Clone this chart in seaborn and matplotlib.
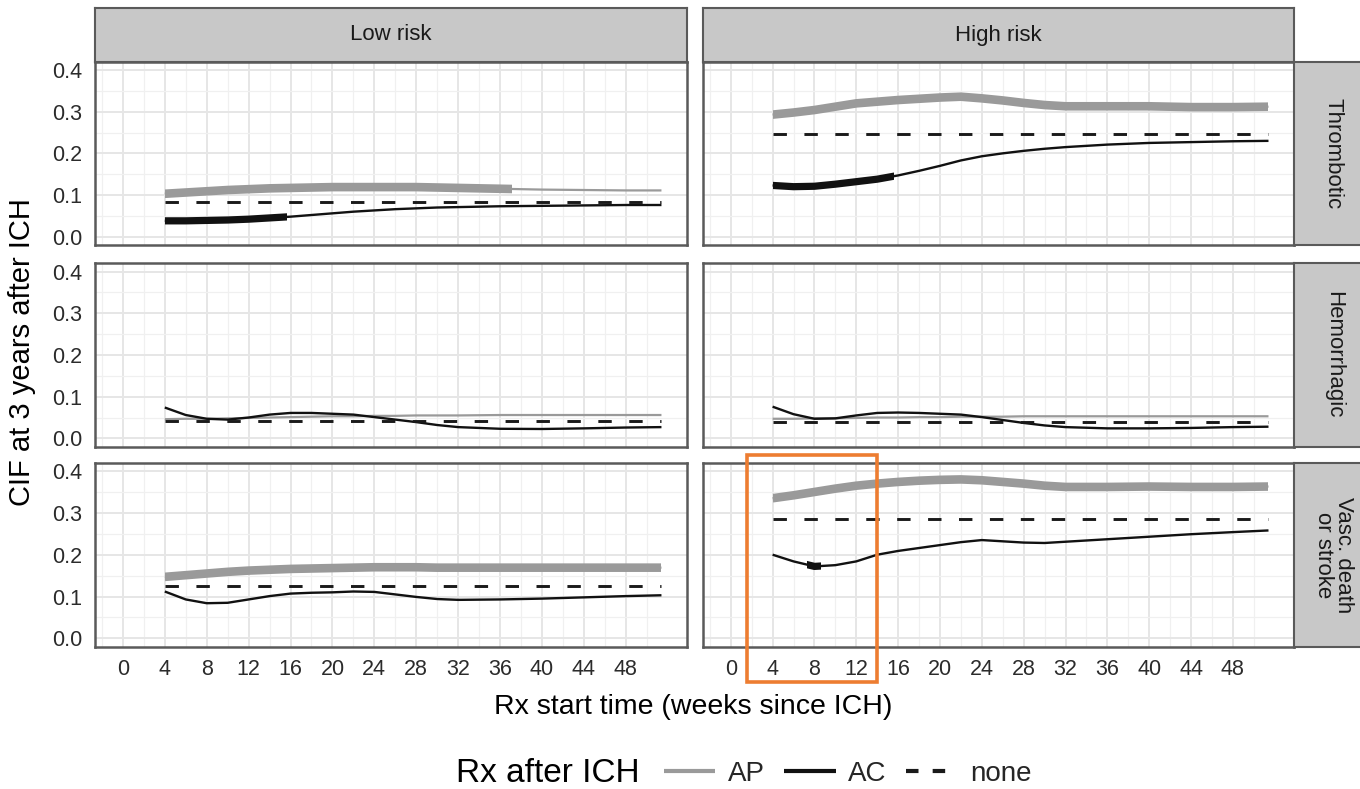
import matplotlib
matplotlib.use("Agg")
import numpy as np
import pandas as pd
import matplotlib.pyplot as plt
import matplotlib.transforms as mtransforms
from matplotlib.patches import Rectangle
from matplotlib.lines import Line2D
import seaborn as sns

# ---------------------------------------------------------------- data
risk_groups = ["Low risk", "High risk"]
outcomes = ["Thrombotic", "Hemorrhagic", "Vasc. death\nor stroke"]
treatments = ["AP", "AC", "none"]

x_ticks = list(range(0, 49, 4))
y_ticks = [0.0, 0.1, 0.2, 0.3, 0.4]

weeks = [4, 6, 8, 10, 12, 14, 16, 18, 20, 22, 24, 26, 28, 30, 32, 36, 40, 44, 48, 51.4]

# Thrombotic
low_thromb_ap = [0.103, 0.106, 0.109, 0.112, 0.114, 0.116, 0.117, 0.118, 0.119, 0.119,
                 0.119, 0.119, 0.119, 0.118, 0.117, 0.115, 0.113, 0.112, 0.111, 0.111]
low_thromb_ac = [0.038, 0.038, 0.039, 0.040, 0.042, 0.045, 0.048, 0.052, 0.056, 0.060,
                 0.063, 0.066, 0.068, 0.070, 0.071, 0.073, 0.074, 0.075, 0.076, 0.076]
high_thromb_ap = [0.293, 0.298, 0.304, 0.312, 0.320, 0.324, 0.328, 0.331, 0.334, 0.336,
                  0.332, 0.327, 0.321, 0.316, 0.313, 0.313, 0.313, 0.311, 0.311, 0.312]
high_thromb_ac = [0.123, 0.120, 0.121, 0.126, 0.132, 0.138, 0.147, 0.158, 0.170, 0.183,
                  0.193, 0.200, 0.206, 0.211, 0.215, 0.221, 0.225, 0.227, 0.229, 0.230]

# Hemorrhagic
low_hem_ap = [0.046, 0.047, 0.047, 0.048, 0.049, 0.050, 0.051, 0.052, 0.053, 0.053,
              0.054, 0.054, 0.055, 0.055, 0.055, 0.056, 0.056, 0.056, 0.056, 0.056]
low_hem_ac = [0.074, 0.056, 0.047, 0.045, 0.050, 0.057, 0.061, 0.061, 0.059, 0.057,
              0.051, 0.045, 0.039, 0.032, 0.027, 0.023, 0.0225, 0.024, 0.026, 0.027]
high_hem_ap = [0.047, 0.047, 0.048, 0.048, 0.049, 0.050, 0.050, 0.051, 0.051, 0.052,
               0.052, 0.052, 0.053, 0.053, 0.053, 0.053, 0.053, 0.053, 0.053, 0.053]
high_hem_ac = [0.076, 0.058, 0.047, 0.048, 0.055, 0.061, 0.062, 0.061, 0.059, 0.057,
               0.051, 0.044, 0.037, 0.031, 0.027, 0.024, 0.024, 0.025, 0.027, 0.028]

# Vascular death or stroke
low_vasc_ap = [0.147, 0.151, 0.155, 0.159, 0.162, 0.164, 0.166, 0.167, 0.168, 0.169,
               0.170, 0.170, 0.170, 0.169, 0.169, 0.169, 0.169, 0.169, 0.169, 0.169]
low_vasc_ac = [0.112, 0.093, 0.084, 0.085, 0.093, 0.101, 0.107, 0.109, 0.110, 0.112,
               0.111, 0.105, 0.099, 0.094, 0.092, 0.093, 0.095, 0.098, 0.101, 0.103]
high_vasc_ap = [0.335, 0.342, 0.350, 0.358, 0.365, 0.370, 0.374, 0.377, 0.379, 0.380,
                0.378, 0.374, 0.370, 0.365, 0.362, 0.362, 0.363, 0.362, 0.362, 0.363]
high_vasc_ac = [0.200, 0.184, 0.172, 0.175, 0.184, 0.200, 0.209, 0.216, 0.223, 0.230,
                0.235, 0.232, 0.229, 0.228, 0.231, 0.237, 0.243, 0.249, 0.254, 0.258]

# no treatment: constant reference level per panel (Thrombotic, Hemorrhagic, Vasc.)
low_none = [0.084, 0.041, 0.126]
high_none = [0.246, 0.039, 0.285]

# start-week ranges where the estimate is drawn heavy (significant difference)
heavy_spans = {
    ("Low risk", "Thrombotic", "AP"): (4, 37.1),
    ("Low risk", "Thrombotic", "AC"): (4, 15.7),
    ("High risk", "Thrombotic", "AP"): (4, 51.4),
    ("High risk", "Thrombotic", "AC"): (4, 15.6),
    ("Low risk", "Vasc. death\nor stroke", "AP"): (4, 51.4),
    ("High risk", "Vasc. death\nor stroke", "AP"): (4, 51.4),
    ("High risk", "Vasc. death\nor stroke", "AC"): (7.3, 8.6),
}

series = {
    ("Low risk", "Thrombotic"): (low_thromb_ap, low_thromb_ac, low_none[0]),
    ("Low risk", "Hemorrhagic"): (low_hem_ap, low_hem_ac, low_none[1]),
    ("Low risk", "Vasc. death\nor stroke"): (low_vasc_ap, low_vasc_ac, low_none[2]),
    ("High risk", "Thrombotic"): (high_thromb_ap, high_thromb_ac, high_none[0]),
    ("High risk", "Hemorrhagic"): (high_hem_ap, high_hem_ac, high_none[1]),
    ("High risk", "Vasc. death\nor stroke"): (high_vasc_ap, high_vasc_ac, high_none[2]),
}

rows = []
for (risk, outcome), (ap, ac, none_level) in series.items():
    for w, v in zip(weeks, ap):
        rows.append((risk, outcome, "AP", w, v))
    for w, v in zip(weeks, ac):
        rows.append((risk, outcome, "AC", w, v))
    for w in (weeks[0], weeks[-1]):
        rows.append((risk, outcome, "none", w, none_level))
df = pd.DataFrame(rows, columns=["risk", "outcome", "rx", "week", "cif"])

# ---------------------------------------------------------------- style
sns.set_theme(style="white")
plt.rcParams["font.family"] = ["Liberation Sans", "DejaVu Sans"]
plt.rcParams["lines.solid_capstyle"] = "butt"
plt.rcParams["lines.dash_capstyle"] = "butt"

colors = {"AP": "#9a9a9a", "AC": "#111111", "none": "#1a1a1a"}
thin_lw = {"AP": 1.6, "AC": 1.7, "none": 2.1}
heavy_lw = {"AP": 6.2, "AC": 5.2}
styles = {"AP": "-", "AC": "-", "none": (0, (4.6, 6.0))}
legend_styles = {"AP": "-", "AC": "-", "none": (0, (3.0, 3.4))}

W, H = 1360, 789
fig = plt.figure(figsize=(W / 100, H / 100), dpi=100)


def fx(px):
    return px / W


def fy(py):
    return 1 - py / H


col_x = [(94.6, 686.6), (702.5, 1293.6)]
row_y = [(61.7, 245.0), (263.3, 446.7), (462.7, 646.7)]

border_col = "#5a5a5a"
strip_fill = "#c8c8c8"
tick_col = "#2b2b2b"

axes = {}
for ci, risk in enumerate(risk_groups):
    for ri, outcome in enumerate(outcomes):
        x0, x1 = col_x[ci]
        y0, y1 = row_y[ri]
        ax = fig.add_axes([fx(x0), fy(y1), fx(x1) - fx(x0), fy(y0) - fy(y1)])
        axes[(risk, outcome)] = ax
        ax.set_xlim(-2.7, 53.8)
        ax.set_ylim(-0.02, 0.42)
        ax.set_xticks(x_ticks)
        ax.set_xticks([t + 2 for t in range(-4, 52, 4)], minor=True)
        ax.set_yticks(y_ticks)
        ax.set_yticks([0.05, 0.15, 0.25, 0.35], minor=True)
        ax.set_axisbelow(True)
        ax.grid(which="major", color="#e6e6e6", lw=1.4)
        ax.grid(which="minor", color="#f0f0f0", lw=0.9)
        for s in ax.spines.values():
            s.set_color(border_col)
            s.set_linewidth(1.8)
        ax.tick_params(which="minor", length=0)
        ax.tick_params(which="major", length=5.0, width=1.6, color=tick_col,
                       labelsize=15.5, labelcolor=tick_col, pad=4)
        ax.yaxis.set_major_formatter(matplotlib.ticker.FormatStrFormatter("%.1f"))
        if ci != 0:
            ax.tick_params(axis="y", length=0, labelleft=False)
        if ri != len(outcomes) - 1:
            ax.tick_params(axis="x", length=0, labelbottom=False)

        sub = df[(df["risk"] == risk) & (df["outcome"] == outcome)]
        clip_tr = mtransforms.blended_transform_factory(ax.transData, ax.transAxes)
        for rx in treatments:
            d = sub[sub["rx"] == rx]
            sns.lineplot(data=d, x="week", y="cif", ax=ax, color=colors[rx],
                         lw=thin_lw[rx], linestyle=styles[rx], estimator=None,
                         sort=True, legend=False)
            span = heavy_spans.get((risk, outcome, rx))
            if span is not None:
                sns.lineplot(data=d, x="week", y="cif", ax=ax, color=colors[rx],
                             lw=heavy_lw[rx], estimator=None, sort=True, legend=False)
                heavy = ax.lines[-1]
                box = Rectangle((span[0], -1), span[1] - span[0], 3, transform=clip_tr)
                heavy.set_clip_path(box)
        ax.set_xlabel("")
        ax.set_ylabel("")

# facet strips
for ci, risk in enumerate(risk_groups):
    x0, x1 = col_x[ci]
    sax = fig.add_axes([fx(x0), fy(61.7), fx(x1) - fx(x0), fy(8.3) - fy(61.7)])
    sax.set_facecolor(strip_fill)
    sax.set_xticks([])
    sax.set_yticks([])
    for s in sax.spines.values():
        s.set_color(border_col)
        s.set_linewidth(1.5)
    sax.text(0.5, 0.5, risk, ha="center", va="center", fontsize=16, color="#1a1a1a",
             transform=sax.transAxes)

for ri, outcome in enumerate(outcomes):
    y0, y1 = row_y[ri]
    sax = fig.add_axes([fx(1293.6), fy(y1), fx(1373) - fx(1293.6), fy(y0) - fy(y1)])
    sax.set_facecolor(strip_fill)
    sax.set_xticks([])
    sax.set_yticks([])
    for s in sax.spines.values():
        s.set_color(border_col)
        s.set_linewidth(1.5)
    sax.text(0.5, 0.5, outcome, ha="center", va="center", fontsize=16, color="#1a1a1a",
             rotation=-90, linespacing=0.95, transform=sax.transAxes)

# axis titles
fig.text(fx(22), fy(352), "CIF at 3 years after ICH", rotation=90, ha="center",
         va="center", fontsize=21, color="#000000")
fig.text(fx(693), fy(707), "Rx start time (weeks since ICH)", ha="center",
         va="center", fontsize=20.5, color="#000000")

# highlighted early start window
ax_hv = axes[("High risk", "Vasc. death\nor stroke")]
hl_tr = mtransforms.blended_transform_factory(ax_hv.transData, fig.transFigure)
fig.patches.append(Rectangle((1.55, fy(682)), 14.0 - 1.55, fy(455) - fy(682),
                             transform=hl_tr, fill=False, edgecolor="#ED7D31",
                             lw=2.6, zorder=20))

# legend
fig.text(fx(456), fy(774), "Rx after ICH", ha="left", va="center", fontsize=24,
         color="#000000")
handles = [Line2D([], [], color=colors[rx], lw=3.0, linestyle=legend_styles[rx])
           for rx in treatments]
leg = fig.legend(handles, treatments, loc="center left",
                 bbox_to_anchor=(fx(664), fy(774)), ncol=3, frameon=False,
                 fontsize=20, handlelength=1.85, handletextpad=0.45,
                 columnspacing=0.7, borderpad=0, borderaxespad=0)

fig.savefig("out.png", dpi=100)
